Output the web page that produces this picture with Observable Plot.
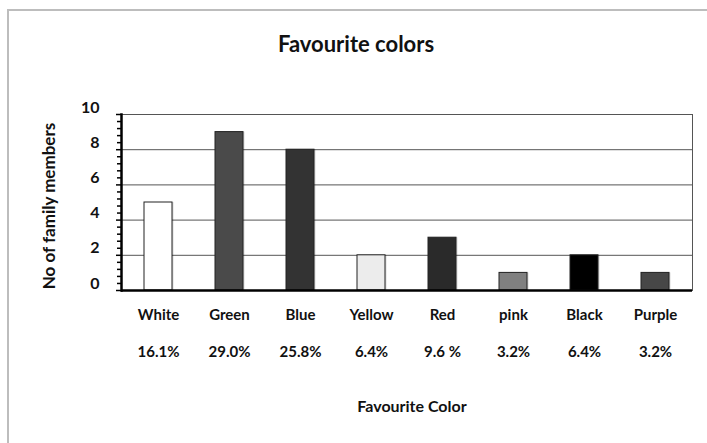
<!DOCTYPE html>
<html>
<head>
<meta charset="utf-8">
<script src="https://cdn.jsdelivr.net/npm/d3@7"></script>
<script src="https://cdn.jsdelivr.net/npm/@observablehq/plot@0.6"></script>
<style>
  body { margin: 0; background: #fff; }
  #wrap { position: relative; width: 707px; height: 443px; overflow: hidden; font-family: Lato, "Open Sans", sans-serif; font-weight: bold; color: #111; }
  #border { position: absolute; left: 7px; top: 9px; width: 760px; height: 480px; border: 2px solid #bdbdbd; box-sizing: border-box; }
  #chart { position: absolute; left: 0; top: 0; }
  .txt { position: absolute; white-space: nowrap; }
  #title { left: 0; width: 712px; top: 30px; text-align: center; font-size: 22px; }
  #xlabel { left: 121px; width: 582px; top: 396px; text-align: center; font-size: 16px; }
  #ylabel { left: 48px; top: 206px; font-size: 17px; transform: translate(-50%, -50%) rotate(-90deg); }
</style>
</head>
<body>
<div id="wrap">
  <div id="border"></div>
  <div id="chart"></div>
  <div class="txt" id="title">Favourite colors</div>
  <div class="txt" id="xlabel">Favourite Color</div>
  <div class="txt" id="ylabel">No of family members</div>
</div>
<script>
// Favourite colour of each family member (31 people)
const colorNames = ["White", "Green", "Blue", "Yellow", "Red", "pink", "Black", "Purple"];
const memberCounts = [5, 9, 8, 2, 3, 1, 2, 1];
const shareLabels = ["16.1%", "29.0%", "25.8%", "6.4%", "9.6 %", "3.2%", "6.4%", "3.2%"];
const barFills = ["#ffffff", "#4a4a4a", "#333333", "#ececec", "#2a2a2a", "#808080", "#000000", "#474747"];
const majorTicks = [0, 2, 4, 6, 8, 10];

const rows = colorNames.map((name, i) => ({name, count: memberCounts[i], fill: barFills[i], share: shareLabels[i]}));
const shareOf = Object.fromEntries(rows.map(d => [d.name, d.share]));
const minorTicks = d3.range(0, 26).map(i => +(i * 0.4).toFixed(1)).filter(v => v <= 10 && !majorTicks.includes(v));

const chart = Plot.plot({
  width: 707,
  height: 443,
  marginLeft: 121,
  marginRight: 15,
  marginTop: 114,
  marginBottom: 153,
  style: {fontFamily: "Lato, 'Open Sans', sans-serif", fontWeight: "bold", color: "#111", background: "transparent"},
  x: {domain: colorNames, paddingInner: 0.6, paddingOuter: 0.3, label: null},
  y: {domain: [0, 10], label: null},
  marks: [
    Plot.gridY(majorTicks, {stroke: "#555", strokeOpacity: 1}),
    Plot.frame({stroke: "#555", strokeWidth: 1}),
    // soft shadow behind each bar
    Plot.barY(rows, {x: "name", y: "count", fill: "#000", fillOpacity: 0.15, dx: 1.5}),
    Plot.barY(rows, {x: "name", y: "count", fill: "fill", stroke: "#222", strokeWidth: 1}),
    Plot.axisY(minorTicks, {tickSize: 4, text: null, stroke: "#000", strokeWidth: 1.5, strokeOpacity: 1}),
    Plot.axisY(majorTicks, {tickSize: 5, text: null, stroke: "#000", strokeWidth: 1.5, strokeOpacity: 1}),
    Plot.axisY(majorTicks, {tickSize: 0, tickPadding: 22, fontSize: 16, dy: -7}),
    Plot.frame({anchor: "left", stroke: "#000", strokeWidth: 2.5}),
    Plot.ruleY([0], {stroke: "#000", strokeWidth: 2.5}),
    Plot.axisX({tickSize: 0, tickPadding: 19, fontSize: 15}),
    Plot.axisX({tickSize: 0, tickPadding: 56, fontSize: 15, tickFormat: d => shareOf[d]})
  ]
});
document.getElementById("chart").append(chart);
</script>
</body>
</html>
